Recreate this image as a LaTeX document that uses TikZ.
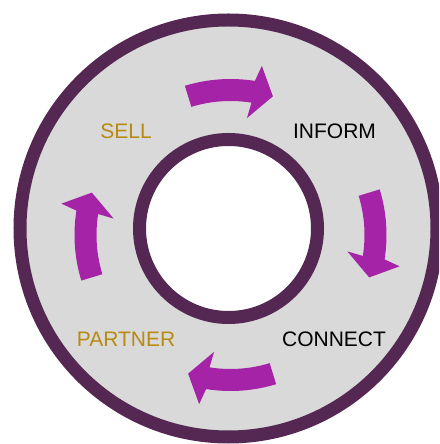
\documentclass[tikz,border=0pt]{standalone}
\usepackage{fontspec}
\setmainfont{Liberation Sans}
\definecolor{ringc}{RGB}{84,40,82}
\definecolor{panelc}{RGB}{217,217,217}
\definecolor{arrowc}{RGB}{164,35,166}
\definecolor{goldc}{RGB}{184,138,18}
\tikzset{
  ringline/.style={draw=ringc, line width=13pt},
  label/.style={inner sep=0pt, font=\fontsize{21}{25}\selectfont},
  cycarrow/.pic={
    \fill[arrowc] (17:156pt) arc[start angle=17, end angle=-9, radius=156pt]
      -- (-10.5:172pt) -- (-17:145pt) -- (-8:118pt) -- (-9:134pt)
      arc[start angle=-9, end angle=17, radius=134pt] -- cycle;
  }
}
\begin{document}
\begin{tikzpicture}[x=1pt,y=1pt]
\useasboundingbox (0,0) rectangle (439,444);
\clip (0,0) rectangle (439,444);
\fill[white] (0,0) rectangle (439,444);
\coordinate (C) at (228.5,215.5);
\coordinate (A) at (230.5,209);
\path[ringline, fill=panelc] (C) circle[radius=208.5pt];
\path[ringline, fill=white] (C) circle[radius=89pt];
\pic[rotate=90] at (A) {cycarrow};
\pic[rotate=0] at (A) {cycarrow};
\pic[rotate=-90] at (A) {cycarrow};
\pic[rotate=180] at (A) {cycarrow};
\node[label, text=goldc] (sell) at (126,313) {SELL};
\node[label, text=black] (inform) at (334.5,313) {INFORM};
\node[label, text=goldc] (partner) at (126,105) {PARTNER};
\node[label, text=black] (connect) at (334,105) {CONNECT};
\end{tikzpicture}
\end{document}
